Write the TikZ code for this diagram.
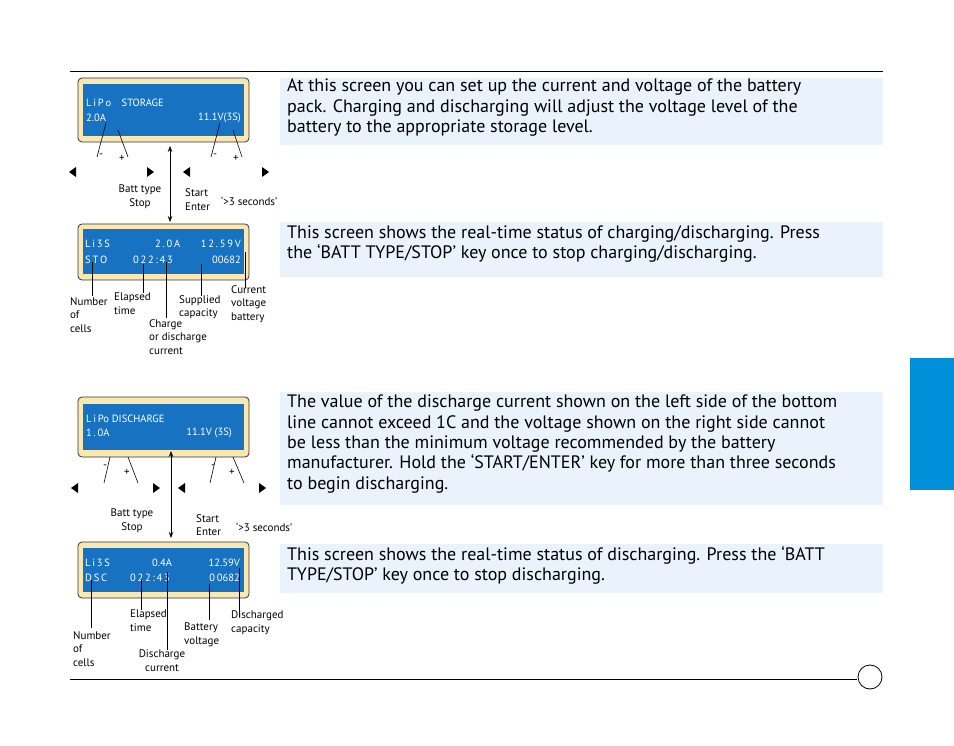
\documentclass[tikz,border=0pt]{standalone}
\usepackage{fontspec}
\setmainfont{PT Sans}
\usetikzlibrary{arrows.meta}
\definecolor{lcd}{HTML}{1773C2}
\definecolor{cream}{HTML}{FBE7B2}
\definecolor{pale}{HTML}{EAF2FB}
\definecolor{tab}{HTML}{0090DA}
\tikzset{
 frame/.style={draw=black!80,fill=cream,rounded corners=4pt,line width=0.8pt},
 screen/.style={fill=lcd},
 lcdtxt/.style={text=white,font=\fontsize{10.5}{12}\selectfont,anchor=west,inner sep=0},
 body/.style={anchor=north west,align=left,inner sep=0,font=\fontsize{18}{20.3}\selectfont},
 small/.style={align=left,inner sep=0,font=\fontsize{11}{13.7}\selectfont},
 tri/.style={fill=black},
 ptr/.style={line width=0.6pt}
}
\begin{document}
\begin{tikzpicture}[x=1pt,y=-1pt]
\useasboundingbox (0,0) rectangle (954,746);
\fill[white] (0,0) rectangle (954,746);
\draw[line width=0.6pt] (70,71) -- (883,71);
\draw[line width=0.6pt] (70,679) -- (857,679);
\draw[line width=0.8pt] (870,677) circle (12);
\fill[tab] (910,358) rectangle (954,490);
% text boxes
\fill[pale] (280,78) rectangle (883,145);
\fill[pale] (280,222) rectangle (883,277);
\fill[pale] (280,392) rectangle (883,505);
\fill[pale] (280,544) rectangle (883,593);
\node[body] (t1) at (287,79) {At this screen you can set up the current and voltage of the battery\\pack. Charging and discharging will adjust the voltage level of the\\battery to the appropriate storage level.};
\node[body] (t2) at (287,225) {This screen shows the real-time status of charging/discharging. Press\\the ‘BATT TYPE/STOP’ key once to stop charging/discharging.};
\node[body] (t3) at (287,395) {The value of the discharge current shown on the left side of the bottom\\line cannot exceed 1C and the voltage shown on the right side cannot\\be less than the minimum voltage recommended by the battery\\manufacturer. Hold the ‘START/ENTER’ key for more than three seconds\\to begin discharging.};
\node[body] (t4) at (287,546) {This screen shows the real-time status of discharging. Press the ‘BATT\\TYPE/STOP’ key once to stop discharging.};
% ===== screen 1
\draw[frame] (78,78) rectangle (249,142);
\fill[screen] (83,84) rectangle (244,136);
\node[lcdtxt] (a1) at (86,103) {L\,i\,P\,o\quad STORAGE};
\node[lcdtxt] (a2) at (86,118) {2.0A};
\node[lcdtxt,anchor=east] (a3) at (241,118) {11.1V(3S)};
\draw[ptr] (106,123) -- (97,157); \draw[ptr] (118,130) -- (128,157);
\draw[ptr] (220,123) -- (211,157); \draw[ptr] (233,130) -- (242,157);
\node[small] (m1) at (101,156) {-}; \node[small] (p1) at (122,158) {+};
\node[small] (m2) at (215,156) {-}; \node[small] (p2) at (236,158) {+};
\foreach \x/\d in {73/-1,150/1,187/-1,265/1}{\fill[tri] (\x+4*\d,172) -- (\x-3*\d,167) -- (\x-3*\d,177) -- cycle;}
\node[small,align=center] (bt1) at (140,197) {Batt type\\Stop};
\node[small,anchor=west] (se1) at (185,200) {Start\\Enter};
\node[small,anchor=west] (s1) at (221,201) {‘>3 seconds’};
\coordinate (d1a) at (170,146); \coordinate (d1b) at (170,222);
\draw[{Stealth[length=6pt]}-{Stealth[length=6pt]},line width=0.8pt] (d1a) -- (d1b);
% ===== screen 2
\draw[frame] (78,224) rectangle (249,280);
\fill[screen] (83,229) rectangle (244,274);
\node[lcdtxt] at (85,244) {L\,i\,3\,S};
\node[lcdtxt] at (155,244) {2\,.\,0\,A};
\node[lcdtxt,anchor=east] at (241,244) {1\,2\,.\,5\,9\,V};
\node[lcdtxt] at (85,260) {S\,T\,O};
\node[lcdtxt] at (133,260) {0\,2\,2\,:\,4\,3};
\node[lcdtxt,anchor=east] at (241,260) {00682};
\draw[ptr] (92,262) -- (92,296); \draw[ptr] (143,264) -- (143,293);
\draw[ptr] (166,262) -- (166,318); \draw[ptr] (201,264) -- (201,296);
\draw[ptr] (245,252) -- (245,288);
\node[small,anchor=north west] (n1) at (70,297) {Number\\of\\cells};
\node[small,anchor=north west] (e1) at (114,293) {Elapsed\\time};
\node[small,anchor=north west] (c1) at (149,319) {Charge\\or discharge\\current};
\node[small,anchor=north west] (sp1) at (179,295) {Supplied\\capacity};
\node[small,anchor=north west] (cv1) at (231,285) {Current\\voltage\\battery};
% ===== screen 3
\draw[frame] (78,397) rectangle (249,457);
\fill[screen] (83,404) rectangle (244,450);
\node[lcdtxt] at (86,419) {L\,i\,Po DISCHARGE};
\node[lcdtxt] at (86,433) {1\,.\,0A};
\node[lcdtxt,anchor=east] at (232,433) {11.1V (3S)};
\draw[ptr] (110,457) -- (104,483); \draw[ptr] (128,457) -- (138,483);
\draw[ptr] (216,457) -- (210,483); \draw[ptr] (233,457) -- (244,483);
\node[small] at (105,467) {-}; \node[small] at (127,472) {+};
\node[small] at (213,467) {-}; \node[small] at (232,472) {+};
\foreach \x/\d in {75/-1,156/1,182/-1,262/1}{\fill[tri] (\x+4*\d,488) -- (\x-3*\d,483) -- (\x-3*\d,493) -- cycle;}
\node[small,align=center] (bt2) at (132,521) {Batt type\\Stop};
\node[small,anchor=west] (se2) at (196,525) {Start\\Enter};
\node[small,anchor=west] (s2) at (236,527) {‘>3 seconds’};
\coordinate (d2a) at (171,451); \coordinate (d2b) at (171,538);
\draw[{Stealth[length=6pt]}-{Stealth[length=6pt]},line width=0.8pt] (d2a) -- (d2b);
% ===== screen 4
\draw[frame] (78,542) rectangle (249,598);
\fill[screen] (83,548) rectangle (244,592);
\node[lcdtxt] at (85,563) {L\,i\,3\,S};
\node[lcdtxt] at (152,563) {0.4A};
\node[lcdtxt,anchor=east] at (240,563) {12.59V};
\node[lcdtxt] at (85,578) {D\,S\,C};
\node[lcdtxt] at (130,578) {0\,2\,2\,:\,4\,3};
\node[lcdtxt,anchor=east] at (240,578) {0\,0682};
\draw[ptr] (91,580) -- (91,628); \draw[ptr] (141,580) -- (141,610);
\draw[ptr] (167,572) -- (167,650); \draw[ptr] (209,584) -- (209,620);
\draw[ptr] (239,568) -- (239,617);
\node[small,anchor=north west] (n2) at (73,631) {Number\\of\\cells};
\node[small,anchor=north west] (e2) at (130,610) {Elapsed\\time};
\node[small,align=center,anchor=north] (c2) at (162,650) {Discharge\\current};
\node[small,anchor=north west] (b2) at (184,623) {Battery\\voltage};
\node[small,anchor=north west] (dc2) at (231,611) {Discharged\\capacity};
\end{tikzpicture}
\end{document}
